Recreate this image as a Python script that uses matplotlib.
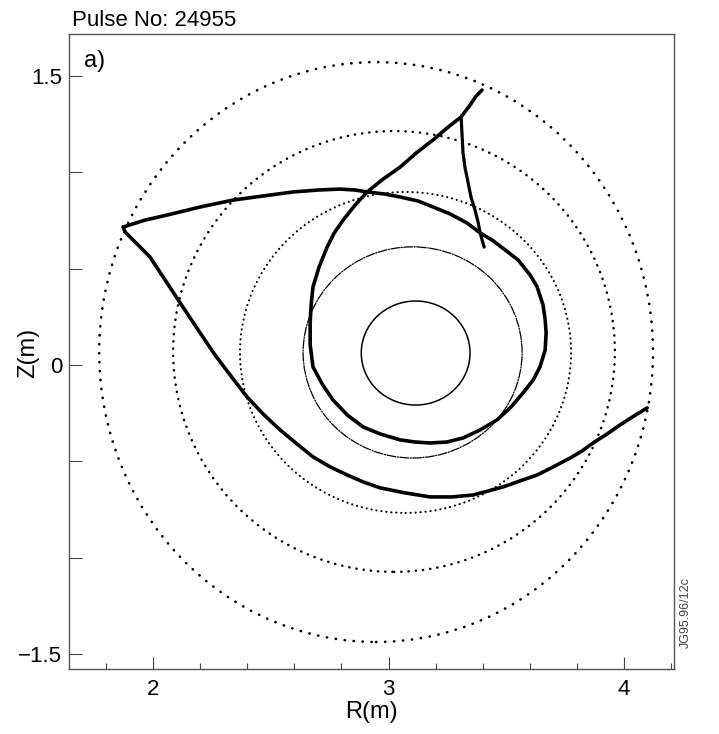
import numpy as np
import matplotlib
matplotlib.use('Agg')
import matplotlib.pyplot as plt
from matplotlib.patches import Ellipse

plt.rcParams['font.family'] = ['Liberation Sans', 'DejaVu Sans']

# flux surfaces: centre R, centre Z, half-width, half-height
surf_R0 = [2.947, 3.023, 3.072, 3.102, 3.115]
surf_Z0 = [0.067, 0.070, 0.065, 0.065, 0.062]
surf_a = [1.176, 0.938, 0.703, 0.465, 0.231]
surf_b = [1.505, 1.144, 0.833, 0.548, 0.270]

# upper branch from the left corner, round the loop, up to the x-point and tail
orbit_R = [1.873, 1.966, 2.059, 2.200, 2.340, 2.467, 2.594, 2.701, 2.794, 2.858,
           2.909, 2.985, 3.049, 3.125, 3.189, 3.261, 3.333, 3.389, 3.439, 3.495,
           3.550, 3.601, 3.631, 3.656, 3.665, 3.669, 3.665, 3.643, 3.614, 3.571,
           3.520, 3.461, 3.389, 3.316, 3.248, 3.176, 3.113, 3.049, 2.964, 2.892,
           2.824, 2.764, 2.718, 2.679, 2.667, 2.667, 2.671, 2.679, 2.705, 2.739,
           2.769, 2.807, 2.858, 2.909, 2.977, 3.049, 3.117, 3.189, 3.248, 3.308,
           3.346, 3.372, 3.397]
orbit_Z = [0.716, 0.752, 0.778, 0.820, 0.856, 0.877, 0.898, 0.908, 0.913, 0.908,
           0.898, 0.887, 0.872, 0.851, 0.820, 0.784, 0.737, 0.685, 0.649, 0.597,
           0.545, 0.467, 0.405, 0.311, 0.234, 0.166, 0.078, -0.010, -0.078, -0.145,
           -0.218, -0.285, -0.337, -0.379, -0.400, -0.405, -0.400, -0.389, -0.358, -0.322,
           -0.259, -0.182, -0.099, -0.010, 0.104, 0.218, 0.311, 0.405, 0.509, 0.612,
           0.685, 0.752, 0.830, 0.898, 0.965, 1.027, 1.100, 1.168, 1.230, 1.287,
           1.349, 1.396, 1.427]

# branch dropping from the x-point
drop_R = [3.308, 3.312, 3.316, 3.325, 3.338, 3.350, 3.367, 3.380, 3.389, 3.397, 3.406]
drop_Z = [1.287, 1.194, 1.100, 1.022, 0.944, 0.872, 0.804, 0.742, 0.685, 0.649, 0.612]

# lower branch from the left corner out to the wall
lower_R = [1.873, 1.881, 1.932, 1.987, 2.051, 2.115, 2.200, 2.263, 2.327, 2.399,
           2.467, 2.539, 2.611, 2.679, 2.752, 2.824, 2.892, 2.964, 3.070, 3.176,
           3.270, 3.359, 3.423, 3.486, 3.558, 3.631, 3.699, 3.771, 3.822, 3.868,
           3.928, 3.983, 4.042, 4.098]
lower_Z = [0.716, 0.690, 0.628, 0.560, 0.441, 0.322, 0.166, 0.052, -0.052, -0.166,
           -0.254, -0.337, -0.410, -0.477, -0.529, -0.571, -0.607, -0.638, -0.664, -0.685,
           -0.685, -0.675, -0.654, -0.633, -0.602, -0.571, -0.529, -0.483, -0.446, -0.405,
           -0.358, -0.311, -0.265, -0.223]

surf_styles = [
    dict(lw=1.9, ls=(0, (0.1, 3.3))),
    dict(lw=1.8, ls=(0, (0.1, 2.8))),
    dict(lw=1.5, ls=(0, (0.1, 2.3))),
    dict(lw=0.9, ls=(0, (7, 1.2, 1, 1.2))),
    dict(lw=1.1, ls='-'),
]

fig = plt.figure(figsize=(7.19, 7.34), dpi=100)
ax = fig.add_axes([0.096, 0.0886, 0.8414, 0.8651])

for R0, Z0, a, b, st in zip(surf_R0, surf_Z0, surf_a, surf_b, surf_styles):
    e = Ellipse((R0, Z0), 2 * a, 2 * b, fill=False, edgecolor='black',
                linewidth=st['lw'], linestyle=st['ls'])
    e.set_capstyle('round')
    ax.add_patch(e)

ax.plot(orbit_R, orbit_Z, color='black', lw=2.6, solid_joinstyle='round', solid_capstyle='round')
ax.plot(drop_R, drop_Z, color='black', lw=2.3, solid_joinstyle='round', solid_capstyle='round')
ax.plot(lower_R, lower_Z, color='black', lw=2.6, solid_joinstyle='miter', solid_capstyle='round')

ax.set_xlim(1.643, 4.212)
ax.set_ylim(-1.578, 1.718)

ax.set_xticks([2, 3, 4])
ax.set_xticks(np.arange(1.8, 4.2, 0.2), minor=True)
ax.set_yticks([-1.5, 0, 1.5])
ax.set_yticklabels(['\u22121.5', '0', '1.5'])
ax.set_yticks([-1.0, -0.5, 0.5, 1.0], minor=True)
ax.tick_params(axis='both', which='both', direction='in', color='#444444', labelsize=16)
ax.tick_params(axis='x', which='major', length=9, width=0.8, pad=7)
ax.tick_params(axis='x', which='minor', length=4, width=0.8)
ax.tick_params(axis='y', which='both', length=9, width=0.8, pad=5)

for sp in ax.spines.values():
    sp.set_color('#555555')
    sp.set_linewidth(1.0)

ax.set_xlabel('R(m)', fontsize=17, labelpad=1)
fig.text(28 / 719, 1 - 353 / 734, 'Z(m)', fontsize=17, rotation=90, ha='center', va='center')

ax.text(0.025, 0.975, 'a)', transform=ax.transAxes, fontsize=17, va='top', ha='left')
fig.text(72 / 719, 1 - 26 / 734, 'Pulse No: 24955', fontsize=16, va='baseline', ha='left')
fig.text(686 / 719, 1 - 613 / 734, 'JG95.96/12c', fontsize=9, rotation=90,
         va='center', ha='center', color='#444444')

fig.savefig('out.png', dpi=100)
